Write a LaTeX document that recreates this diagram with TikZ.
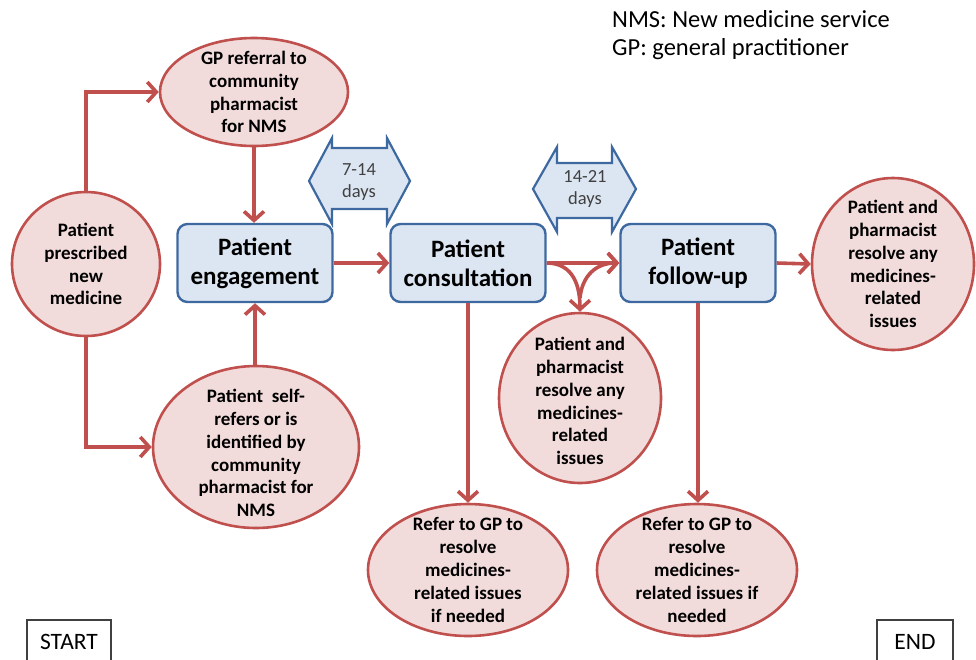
\documentclass[tikz,border=0pt]{standalone}
\usepackage{fontspec}
\setmainfont{Carlito}
\usetikzlibrary{shapes.geometric,arrows.meta}
\definecolor{redline}{HTML}{C0504D}
\definecolor{pinkfill}{HTML}{F2DCDB}
\definecolor{bluefill}{HTML}{DCE6F2}
\definecolor{blueline}{HTML}{3D69A0}
\definecolor{txtgray}{HTML}{404040}
\begin{document}
\begin{tikzpicture}[x=1pt,y=-1pt,
  ell/.style={ellipse, draw=redline, fill=pinkfill, line width=2.6pt, inner sep=0pt},
  etxt/.style={align=center, font=\bfseries\fontsize{19}{22.8}\selectfont, inner sep=0pt},
  pbox/.style={rectangle, rounded corners=10pt, draw=blueline, fill=bluefill, line width=2.4pt,
    minimum width=155pt, minimum height=78pt, align=center, font=\bfseries\fontsize{25}{29}\selectfont},
  darrow/.style={draw=blueline, fill=bluefill, line width=2.2pt, line join=miter},
  dtxt/.style={align=center, text=txtgray, font=\fontsize{18.5}{22}\selectfont, inner sep=0pt},
  arr/.style={draw=redline, line width=3.6pt, -{Straight Barb[length=9pt,width=20pt]}},
  endbox/.style={draw=black!75, line width=1.2pt, minimum height=44pt, font=\fontsize{23.5}{27}\selectfont}
]
\useasboundingbox (0,0) rectangle (976,659);
\clip (0,0) rectangle (976,659);

% legend
\node[anchor=north west, align=left, inner sep=0pt, font=\fontsize{24.5}{28}\selectfont] (legend) at (612,10)
  {NMS: New medicine service\\GP: general practitioner};

% ellipses
\node[ell, minimum width=148pt, minimum height=144pt] (pres) at (86,264) {};
\node[etxt] (presT) at (pres) {Patient\\prescribed\\new\\medicine};

\node[ell, minimum width=188pt, minimum height=108pt] (gp) at (254,92) {};
\node[etxt] (gpT) at (gp) {GP referral to\\community\\pharmacist\\for NMS};

\node[ell, minimum width=206pt, minimum height=162pt] (self) at (256,447) {};
\node[etxt] (selfT) at (256,453) {Patient\ \ self-\\refers or is\\identified by\\community\\pharmacist for\\NMS};

\node[ell, minimum width=162pt, minimum height=170pt] (mid) at (580,398) {};
\node[etxt] (midT) at (580,401) {Patient and\\pharmacist\\resolve any\\medicines-\\related\\issues};

\node[ell, minimum width=162pt, minimum height=172pt] (right) at (893,264) {};
\node[etxt] (rightT) at (right) {Patient and\\pharmacist\\resolve any\\medicines-\\related\\issues};

\node[ell, minimum width=200pt, minimum height=132pt] (bot1) at (468,570) {};
\node[etxt] (bot1T) at (bot1) {Refer to GP to\\resolve\\medicines-\\related issues\\if needed};

\node[ell, minimum width=200pt, minimum height=132pt] (bot2) at (697,570) {};
\node[etxt] (bot2T) at (bot2) {Refer to GP to\\resolve\\medicines-\\related issues if\\needed};

% boxes
\node[pbox] (eng) at (255,263) {Patient\\engagement};
\node[pbox] (cons) at (468,263) {Patient\\consultation};
\node[pbox] (fu) at (698,263) {Patient\\follow-up};

% double arrows
\draw[darrow] (309,181) -- (332,138) -- (332,148) -- (387,148) -- (387,138) -- (410,181)
  -- (387,224) -- (387,209) -- (332,209) -- (332,224) -- cycle;
\node[dtxt] (d1) at (359,182) {7-14\\days};
\draw[darrow] (533,189) -- (557,147) -- (557,163) -- (612,163) -- (612,147) -- (636,189)
  -- (612,232) -- (612,218) -- (557,218) -- (557,232) -- cycle;
\node[dtxt] (d2) at (585,189) {14-21\\days};

% START / END
\node[endbox, minimum width=84pt] (start) at (69,642) {START};
\node[endbox, minimum width=76pt] (end) at (915,642) {END};

% connectors
\draw[arr] (pres.north) |- (gp.west);
\draw[arr] (pres.south) |- (self.west);
\draw[arr] (gp.south) -- (gp.south |- eng.north);
\draw[arr] (self.north -| eng.south) -- (eng.south);
\draw[arr] (eng.east) -- (cons.west);
\draw[arr] (cons.east) -- (fu.west);
\draw[arr] (fu.east) -- (right.west);
\draw[arr] (cons.east) .. controls (568,263) and (580,278) .. (mid.north);
\coordinate (fork) at (580,298);
\draw[arr] (fork) .. controls (582,276) and (596,263) .. (fu.west);
\draw[arr] (cons.south) -- (cons.south |- bot1.north);
\draw[arr] (fu.south) -- (fu.south |- bot2.north);
\end{tikzpicture}
\end{document}
